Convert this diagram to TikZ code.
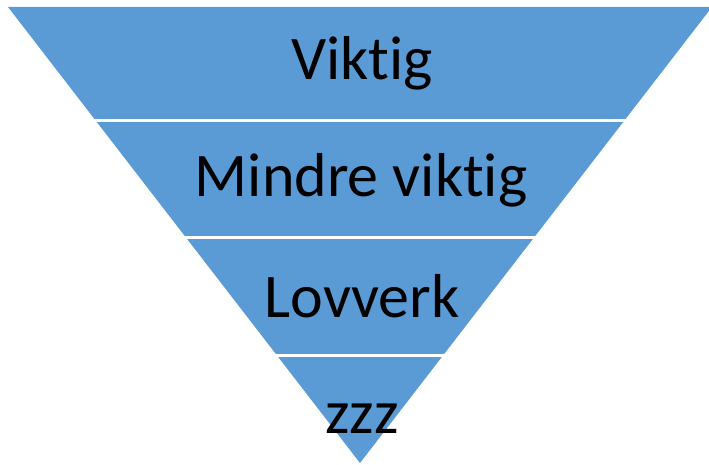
\documentclass[tikz,border=0pt]{standalone}
\usepackage{fontspec}
\setmainfont{Carlito}[Ligatures=NoCommon]
\usepackage{xcolor}
\usepackage{tikz}
\usetikzlibrary{calc}
\definecolor{funnelblue}{HTML}{5B9BD5}

\begin{document}
\begin{tikzpicture}[x=1bp,y=-1bp,
 lvl/.style={font=\fontsize{62bp}{70bp}\selectfont,text=black,inner sep=0pt},
 sep/.style={white,line width=3bp}]
\useasboundingbox (0,0) rectangle (709,465);
\coordinate (tl) at (8,7);
\coordinate (tr) at (712,7);
\coordinate (tip) at (360,463);
\fill[funnelblue] (tl) -- (tr) -- (tip) -- cycle;
% skillelinjer mellom nivaene
\foreach \yy in {121,238,355}
 \draw[sep] (0,\yy) -- (709,\yy);
\node[lvl] (n1) at (362,63) {Viktig};
\node[lvl] (n2) at (361,180) {Mindre viktig};
\node[lvl] (n3) at (362,296) {Lovverk};
\node[lvl] (n4) at (362,419) {zzz};
\end{tikzpicture}
\end{document}
